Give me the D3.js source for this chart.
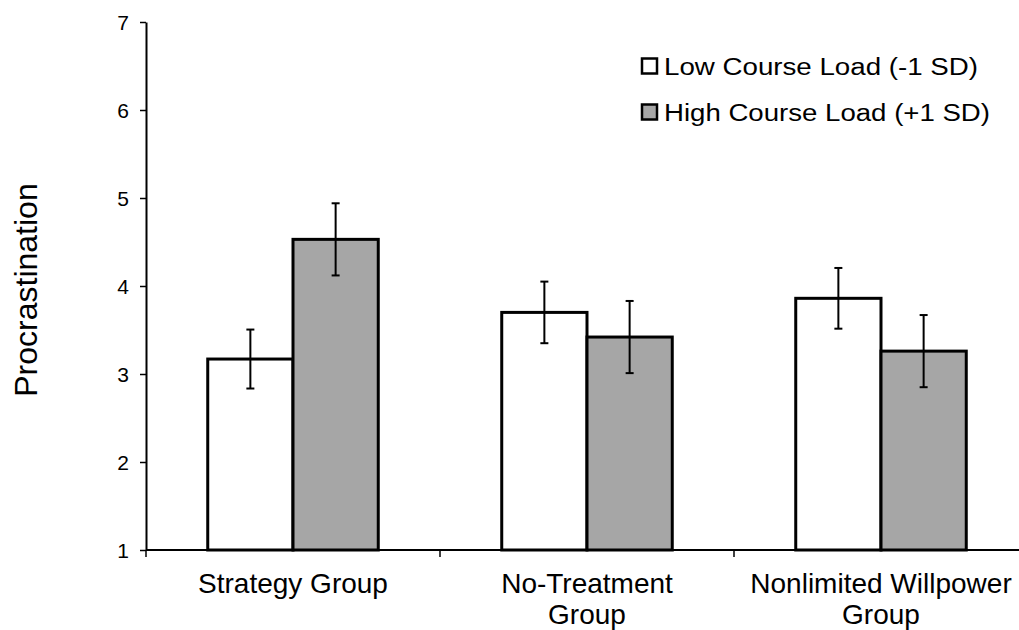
<!DOCTYPE html>
<html>
<head>
<meta charset="utf-8">
<script src="https://cdn.jsdelivr.net/npm/d3@7"></script>
<style>
  html, body { margin: 0; padding: 0; background: #fff; }
  svg { display: block; font-family: Arial, "Liberation Sans", sans-serif; }
</style>
</head>
<body>
<svg id="chart" width="1019" height="630"></svg>
<script>
// ---- data ----
const categories = ["Strategy Group", "No-Treatment Group", "Nonlimited Willpower Group"];
const categoryLabelLines = [["Strategy Group"], ["No-Treatment", "Group"], ["Nonlimited Willpower", "Group"]];
const seriesNames = ["Low Course Load (-1 SD)", "High Course Load (+1 SD)"];
const lowValues = [3.17, 3.70, 3.86];
const lowErrors = [0.335, 0.35, 0.345];
const highValues = [4.53, 3.42, 3.26];
const highErrors = [0.41, 0.41, 0.41];
const yTicks = [1, 2, 3, 4, 5, 6, 7];
const yTitle = "Procrastination";

const seriesKeys = ["low", "high"];
const seriesFill = { low: "#ffffff", high: "#a6a6a6" };
const table = categories.map((c, i) => ({
  category: c,
  low: { v: lowValues[i], e: lowErrors[i] },
  high: { v: highValues[i], e: highErrors[i] }
}));

// ---- layout ----
const svg = d3.select("#chart");
const x0 = 146, x1 = 1028, yTop = 22, yBot = 550;

const y = d3.scaleLinear().domain([1, 7]).range([yBot, yTop]);
const x = d3.scaleBand().domain(categories).range([x0, x1]).paddingInner(0.42).paddingOuter(0.21);
const xs = d3.scaleBand().domain(seriesKeys).range([0, x.bandwidth()]);

// bars
const groups = svg.append("g").selectAll("g").data(table).join("g")
  .attr("transform", d => `translate(${x(d.category)},0)`);

groups.selectAll("rect").data(d => seriesKeys.map(k => ({ k, v: d[k].v })))
  .join("rect")
  .attr("x", d => xs(d.k))
  .attr("y", d => y(d.v))
  .attr("width", xs.bandwidth())
  .attr("height", d => y(1) - y(d.v))
  .attr("fill", d => seriesFill[d.k])
  .attr("stroke", "#000")
  .attr("stroke-width", 3);

// error bars
const eb = groups.selectAll("g.eb").data(d => seriesKeys.map(k => ({ k, v: d[k].v, e: d[k].e })))
  .join("g").attr("class", "eb")
  .attr("transform", d => `translate(${xs(d.k) + xs.bandwidth() / 2},0)`);
eb.append("line").attr("x1", 0).attr("x2", 0)
  .attr("y1", d => y(d.v + d.e)).attr("y2", d => y(d.v - d.e))
  .attr("stroke", "#000").attr("stroke-width", 2);
eb.append("line").attr("x1", -4).attr("x2", 4)
  .attr("y1", d => y(d.v + d.e)).attr("y2", d => y(d.v + d.e))
  .attr("stroke", "#000").attr("stroke-width", 2);
eb.append("line").attr("x1", -4).attr("x2", 4)
  .attr("y1", d => y(d.v - d.e)).attr("y2", d => y(d.v - d.e))
  .attr("stroke", "#000").attr("stroke-width", 2);

// y axis
const yAxis = svg.append("g").attr("transform", `translate(${x0},0)`)
  .call(d3.axisLeft(y).tickValues(yTicks).tickFormat(d3.format("d")).tickSizeInner(6).tickSizeOuter(0));
yAxis.attr("font-size", null).attr("font-family", null);
yAxis.select(".domain").attr("stroke", "#000").attr("stroke-width", 2);
yAxis.selectAll(".tick line").attr("stroke", "#000").attr("stroke-width", 1.5);
yAxis.selectAll(".tick text")
  .style("font-size", "21px")
  .style("font-family", "Arial, 'Liberation Sans', sans-serif")
  .attr("x", -17).attr("dy", "0.35em")
  .attr("fill", "#000");

// x axis line
svg.append("line").attr("x1", x0).attr("x2", 1019).attr("y1", yBot).attr("y2", yBot)
  .attr("stroke", "#000").attr("stroke-width", 2);
// x ticks at category boundaries
const boundaries = categories.map(c => x(c) - x.step() * x.paddingOuter());
svg.append("g").selectAll("line").data(boundaries).join("line")
  .attr("x1", d => d).attr("x2", d => d).attr("y1", yBot).attr("y2", yBot + 7)
  .attr("stroke", "#000").attr("stroke-width", 1.5);

// category labels
svg.append("g").selectAll("text").data(categories).join("text")
  .attr("x", d => x(d) + x.bandwidth() / 2)
  .attr("y", 593)
  .attr("text-anchor", "middle")
  .attr("font-size", 28)
  .attr("fill", "#000")
  .each(function(d, i) {
    const t = d3.select(this);
    categoryLabelLines[i].forEach((line, j) => {
      t.append("tspan").attr("x", x(d) + x.bandwidth() / 2).attr("dy", j === 0 ? 0 : 31).text(line);
    });
  });

// y title
svg.append("text")
  .attr("transform", "translate(37,290) rotate(-90)")
  .attr("text-anchor", "middle")
  .attr("font-size", 32)
  .attr("fill", "#000")
  .text(yTitle);

// legend
const legendRows = [{ k: "low", name: seriesNames[0], cy: 66, w: 314 }, { k: "high", name: seriesNames[1], cy: 112, w: 326 }];
const lg = svg.append("g").selectAll("g").data(legendRows).join("g");
lg.append("rect").attr("x", 642).attr("y", d => d.cy - 7.5).attr("width", 15).attr("height", 15)
  .attr("fill", d => seriesFill[d.k]).attr("stroke", "#000").attr("stroke-width", 2.5);
lg.append("text").attr("x", 664).attr("y", d => d.cy + 8.5)
  .attr("font-size", 23).attr("fill", "#000")
  .attr("textLength", d => d.w).attr("lengthAdjust", "spacingAndGlyphs")
  .text(d => d.name);
</script>
</body>
</html>
